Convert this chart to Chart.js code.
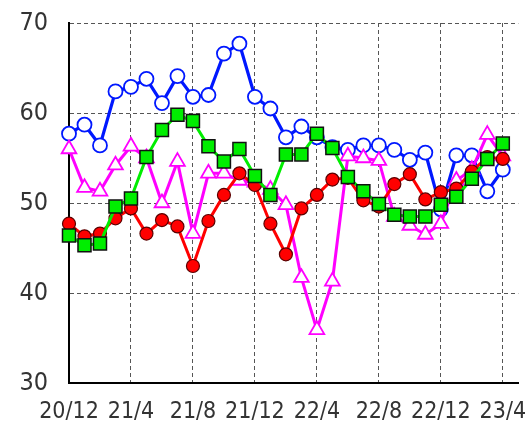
<!DOCTYPE html>
<html><head><meta charset="utf-8">
<script src="https://cdn.jsdelivr.net/npm/chart.js@4/dist/chart.umd.min.js"></script>
<style>html,body{margin:0;padding:0;background:#fff}#wrap{width:529px;height:421px}</style>
</head><body><div id="wrap"><canvas id="c"></canvas></div>
<script>
const months = ['20/12','21/1','21/2','21/3','21/4','21/5','21/6','21/7','21/8','21/9','21/10','21/11','21/12','22/1','22/2','22/3','22/4','22/5','22/6','22/7','22/8','22/9','22/10','22/11','22/12','23/1','23/2','23/3','23/4'];
const tickValues = [0,4,8,12,16,20,24,28];
const tickLabels = ['20/12','21/4','21/8','21/12','22/4','22/8','22/12','23/4'];
const yTicks = [30,40,50,60,70];
const blue  = [57.7,58.7,56.4,62.4,62.9,63.8,61.1,64.1,61.8,62.0,66.6,67.7,61.8,60.5,57.3,58.5,57.3,56.2,55.9,56.4,56.4,55.9,54.8,55.6,49.3,55.3,55.3,51.3,53.7];
const red   = [47.7,46.3,46.6,48.3,49.4,46.6,48.1,47.4,43.0,48.0,50.9,53.3,52.0,47.7,44.3,49.4,50.9,52.6,52.8,50.3,49.6,52.1,53.2,50.4,51.2,51.6,53.5,55.1,54.9];
const green = [46.4,45.3,45.5,49.6,50.5,55.1,58.1,59.8,59.1,56.3,54.6,56.0,53.0,50.9,55.4,55.4,57.7,56.1,52.9,51.3,49.9,48.7,48.5,48.5,49.8,50.7,52.7,54.9,56.6];
const pink  = [56.0,51.7,51.3,54.2,56.3,55.0,50.0,54.6,46.6,53.3,53.3,52.5,52.3,51.5,49.8,41.7,35.9,41.3,55.2,55.0,54.7,48.5,47.5,46.5,47.7,52.5,53.7,57.6,55.2];

const toXY = arr => arr.map((v,i)=>({x:i,y:v}));
const FONT = '"Liberation Sans Narrow","DejaVu Sans Condensed",sans-serif';

new Chart(document.getElementById('c'), {
  type: 'line',
  data: { datasets: [
    { label:'green', data: toXY(green), order:0, borderColor:'#00ee00', borderWidth:3,
      pointStyle:'rect', pointRadius:9.2, pointBackgroundColor:'#00ee00', pointBorderColor:'#111', pointBorderWidth:1.5, clip:false },
    { label:'red', data: toXY(red), order:1, borderColor:'#ff0000', borderWidth:3,
      pointStyle:'circle', pointRadius:6.5, pointBackgroundColor:'#ff0000', pointBorderColor:'#5a0000', pointBorderWidth:1.2, clip:false },
    { label:'pink', data: toXY(pink), order:2, borderColor:'#ff00ff', borderWidth:3,
      pointStyle:'triangle', pointRadius:8.5, pointBackgroundColor:'#ffffff', pointBorderColor:'#ff00ff', pointBorderWidth:1.8, clip:false },
    { label:'blue', data: toXY(blue), order:3, borderColor:'#0018ff', borderWidth:3.2,
      pointStyle:'circle', pointRadius:7, pointBackgroundColor:'#ffffff', pointBorderColor:'#0018ff', pointBorderWidth:1.8, clip:false }
  ]},
  options: {
    responsive:true, maintainAspectRatio:false, animation:false,
    layout:{ padding:{ top:23, right:8, left:0, bottom:0 } },
    plugins:{ legend:{display:false}, tooltip:{enabled:false} },
    elements:{ line:{ tension:0 } },
    scales:{
      x:{ type:'linear', min:0, max:29,
        afterBuildTicks: s => { s.ticks = tickValues.map(v=>({value:v})); },
        afterFit: s => { s.height = 38; s.paddingLeft = 0; s.paddingRight = 0; },
        grid:{ color:'#555', lineWidth:1, drawTicks:false },
        border:{ display:true, color:'#000', width:2, dash:[4,3] },
        ticks:{ autoSkip:false, maxRotation:0, padding:15, color:'#333',
          font:{ family:FONT, size:23 },
          callback: v => tickLabels[tickValues.indexOf(v)] ?? '' } },
      y:{ min:30, max:70,
        afterBuildTicks: s => { s.ticks = yTicks.map(v=>({value:v})); },
        afterFit: s => { s.width = 69; s.paddingTop = 0; s.paddingBottom = 0; },
        grid:{ color:'#555', lineWidth:1, drawTicks:false },
        border:{ display:true, color:'#000', width:2, dash:[4,3] },
        ticks:{ padding:21, color:'#333', font:{ family:FONT, size:25 } } }
    }
  }
});
</script></body></html>
